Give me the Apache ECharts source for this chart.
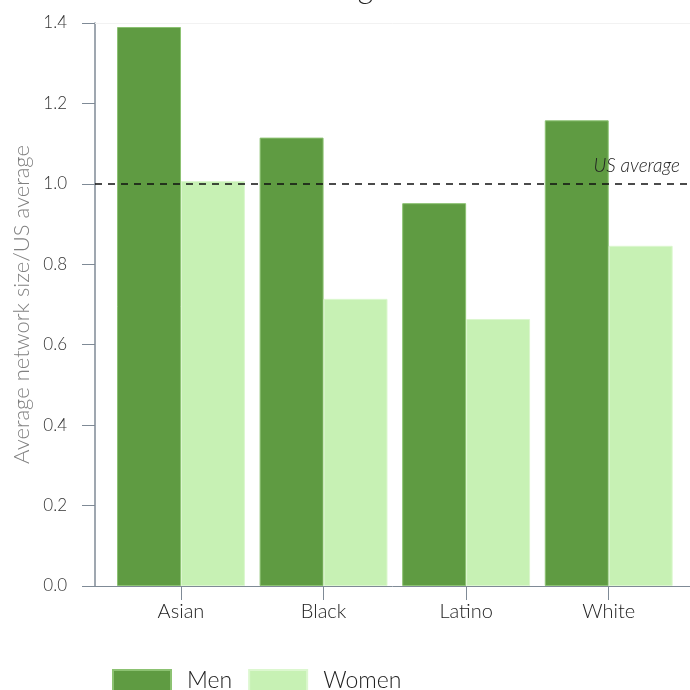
<!DOCTYPE html>
<html>
<head>
<meta charset="utf-8">
<script src="https://cdn.jsdelivr.net/npm/echarts@6/dist/echarts.min.js"></script>
<style>html,body{margin:0;padding:0;background:#fff}#c{width:690px;height:690px}</style>
</head>
<body>
<div id="c"></div>
<script>
const categories = ['Asian', 'Black', 'Latino', 'White'];
const menValues = [1.39, 1.115, 0.952, 1.158];
const womenValues = [1.007, 0.714, 0.664, 0.846];
const yTicks = { min: 0, max: 1.4, interval: 0.2 };
const usAverage = 1.0;
const titleText = 'Networking';

const FONT = 'Lato, "Noto Sans", sans-serif';
const axisColor = '#7f8a96';

const chart = echarts.init(document.getElementById('c'));
chart.setOption({
  animation: false,
  textStyle: { fontFamily: FONT },
  graphic: [{
    type: 'text', x: 373, y: 4,
    style: { text: titleText, font: '300 30px ' + FONT, fill: '#222', textAlign: 'right', textVerticalAlign: 'bottom' }
  }],
  legend: {
    left: 112, top: 669, itemWidth: 58, itemHeight: 22, itemGap: 16, padding: 0,
    icon: 'rect',
    textStyle: { fontSize: 23, fontWeight: 300, color: '#222', fontFamily: FONT, padding: [0, 0, 0, 11] },
    data: ['Men', 'Women']
  },
  grid: [
    { left: 95, right: 0, top: 23, bottom: 104, outerBoundsMode: 'none' },
    { left: 109.7, right: 10, top: 23, bottom: 104, outerBoundsMode: 'none' }
  ],
  xAxis: [
    { gridIndex: 0, type: 'value', min: 0, max: 1, show: true,
      axisLine: { show: true, lineStyle: { color: axisColor, width: 1 } },
      axisTick: { show: false }, axisLabel: { show: false }, splitLine: { show: false } },
    { gridIndex: 1, type: 'category', data: categories,
      axisLine: { show: false },
      axisTick: { show: true, alignWithLabel: true, length: 14, lineStyle: { color: axisColor } },
      axisLabel: { margin: 16, fontSize: 20, fontWeight: 300, color: '#222', fontFamily: FONT } },
    { gridIndex: 0, type: 'value', min: 0, max: 1, position: 'top',
      axisLine: { show: true, lineStyle: { color: '#f2f2f2', width: 1 } },
      axisTick: { show: false }, axisLabel: { show: false }, splitLine: { show: false } }
  ],
  yAxis: [
    { gridIndex: 0, type: 'value', min: yTicks.min, max: yTicks.max, interval: yTicks.interval,
      name: 'Average network size/US average', nameLocation: 'middle', nameGap: 62,
      nameTextStyle: { fontSize: 22, fontWeight: 300, color: '#808080', fontFamily: FONT },
      axisLine: { show: true, lineStyle: { color: axisColor, width: 1.5 } },
      axisTick: { show: true, length: 13, lineStyle: { color: axisColor } },
      axisLabel: { margin: 28, fontSize: 17, fontWeight: 300, color: '#333', fontFamily: FONT,
        formatter: v => v.toFixed(1) },
      splitLine: { show: false } },
    { gridIndex: 1, type: 'value', min: yTicks.min, max: yTicks.max, interval: yTicks.interval, show: false }
  ],
  series: [
    { name: 'Men', type: 'bar', xAxisIndex: 1, yAxisIndex: 1, data: menValues,
      barGap: '0%', barCategoryGap: '10.3%',
      itemStyle: { color: '#5f9b42', borderColor: '#8cc272', borderWidth: 1 } },
    { name: 'Women', type: 'bar', xAxisIndex: 1, yAxisIndex: 1, data: womenValues,
      barGap: '0%', barCategoryGap: '10.3%',
      itemStyle: { color: '#c7f1b4', borderColor: '#dcf7cf', borderWidth: 1 } },
    { name: 'avg', type: 'line', xAxisIndex: 0, yAxisIndex: 0, data: [], silent: true,
      markLine: {
        silent: true, symbol: 'none',
        lineStyle: { type: [7, 6], color: '#111', width: 1.5 },
        label: { show: true, position: 'insideEndTop', formatter: 'US average',
          fontSize: 19, fontStyle: 'italic', fontWeight: 300, color: '#222', fontFamily: FONT, distance: [10, 8] },
        data: [{ yAxis: usAverage }]
      } }
  ]
});
</script>
</body>
</html>
